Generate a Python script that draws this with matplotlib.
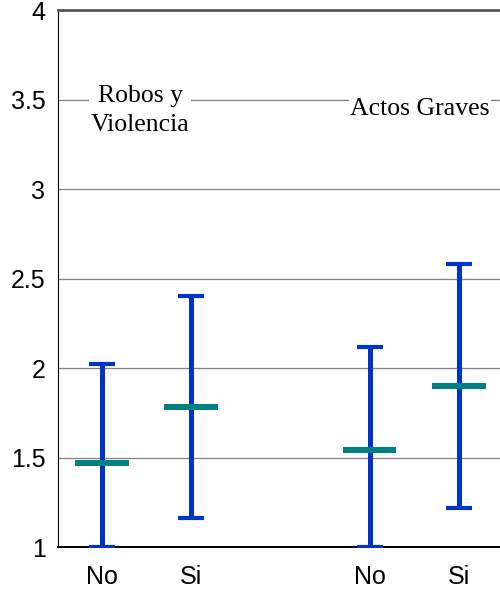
import numpy as np
import matplotlib.pyplot as plt

# data
groups = ["Robos y\nViolencia", "Actos Graves"]
x_labels = ["No", "Si", "No", "Si"]
x_pos = [0, 1, 3, 4]
means = [1.47, 1.78, 1.54, 1.90]
lows = [1.00, 1.16, 1.00, 1.22]
highs = [2.02, 2.40, 2.12, 2.58]
y_ticks = [1, 1.5, 2, 2.5, 3, 3.5, 4]
y_tick_labels = ["1", "1.5", "2", "2.5", "3", "3.5", "4"]

plt.rcParams['font.family'] = ['Liberation Sans', 'DejaVu Sans']

fig = plt.figure(figsize=(5, 5.92), dpi=100)
ax = fig.add_axes([0.116, 0.076, 0.884, 0.907])

means_a = np.array(means)
yerr = [means_a - np.array(lows), np.array(highs) - means_a]
ax.errorbar(x_pos, means, yerr=yerr, fmt='none', ecolor='#0033CC',
            elinewidth=3.6, capsize=9.5, capthick=3.0, zorder=3)
ax.hlines(means, np.array(x_pos) - 0.3, np.array(x_pos) + 0.3,
          color='#008080', linewidth=4.3, zorder=4)

ax.set_xlim(-0.49, 4.46)
ax.set_ylim(1, 4)
ax.set_yticks(y_ticks)
ax.set_yticklabels(y_tick_labels)
ax.set_xticks(x_pos)
ax.set_xticklabels(x_labels)
ax.tick_params(axis='y', length=0, pad=9, labelsize=18)
ax.tick_params(axis='x', length=0, pad=13, labelsize=18)

for y in y_ticks[1:-1]:
    ax.axhline(y, color='#808080', linewidth=0.9, zorder=1)

ax.spines['right'].set_visible(False)
ax.spines['top'].set_color('#555555')
ax.spines['top'].set_linewidth(2)
ax.spines['left'].set_color('black')
ax.spines['bottom'].set_color('black')
ax.spines['bottom'].set_linewidth(1.4)

box = dict(facecolor='white', edgecolor='none', pad=1)
ax.text(0.43, 3.44, groups[0], family='Liberation Serif', fontsize=18.5,
        ha='center', va='center', linespacing=1.4, bbox=box, zorder=5)
ax.text(3.56, 3.45, groups[1], family='Liberation Serif', fontsize=18.5,
        ha='center', va='center', bbox=box, zorder=5)

fig.savefig("out.png", dpi=100)
